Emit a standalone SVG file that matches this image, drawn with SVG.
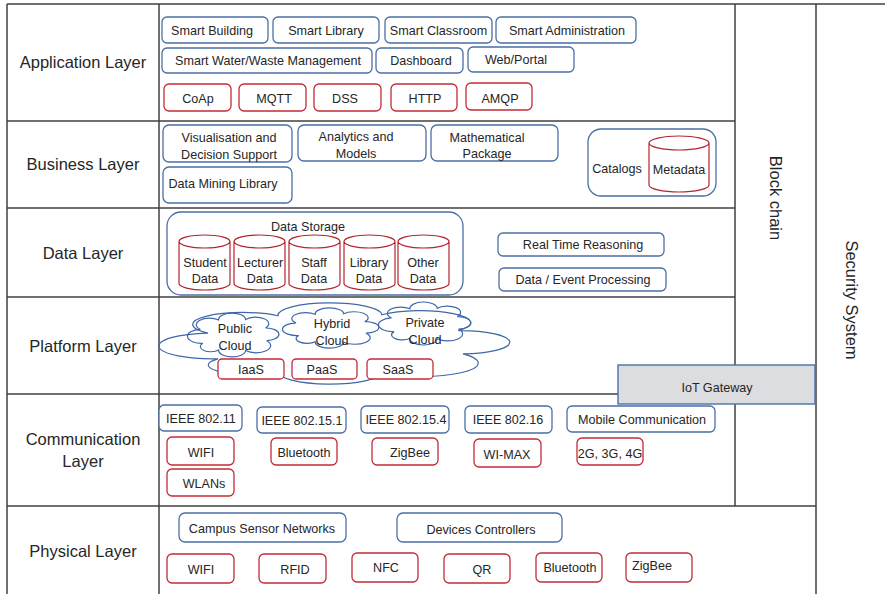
<svg xmlns="http://www.w3.org/2000/svg" xmlns:xlink="http://www.w3.org/1999/xlink" width="885" height="594" viewBox="0 0 885 594">
  <style>
    .frame line { stroke: #404040; stroke-width: 1.5; }
    .bx { fill: #ffffff; stroke: #4a6fa5; stroke-width: 1.3; }
    .rb { fill: #ffffff; stroke: #c42b36; stroke-width: 1.3; }
    .cyl { fill: #ffffff; stroke: #b3262f; stroke-width: 1.2; }
    .cloud { fill: none; stroke: #3f68a8; stroke-width: 1.2; vector-effect: non-scaling-stroke; }
    text { font-family: "Liberation Sans", Arial, sans-serif; fill: #262626; }
    .t { font-size: 12.6px; text-anchor: middle; }
    .lbl { font-size: 16.5px; text-anchor: middle; }
  </style>
  <defs>
    <!-- generic cloud outline in a 100x100 box, scaled per use -->
    <path id="cloud" class="cloud" d="M17.1,68 A1,1 0 0 1 14.3,37.7 A1,1 0 0 1 33.9,17.4 A1,1 0 0 1 63,16.2 A1,1 0 0 1 84.4,34.8 A1,1 0 0 1 85.7,62.3 A1,1 0 0 1 63,83.8 A1,1 0 0 1 33.9,82.6 A1,1 0 0 1 17.1,68 Z"/>
  </defs>

  <rect width="885" height="594" fill="#ffffff"/>

  <!-- layer grid -->
  <g id="connectors" class="frame">
    <line x1="7" y1="4" x2="885" y2="4"/>
    <line x1="7" y1="121" x2="735" y2="121"/>
    <line x1="7" y1="208" x2="735" y2="208"/>
    <line x1="7" y1="297" x2="735" y2="297"/>
    <line x1="7" y1="394" x2="735" y2="394"/>
    <line x1="7" y1="506" x2="816" y2="506"/>
    <line x1="7" y1="4" x2="7" y2="594"/>
    <line x1="159" y1="4" x2="159" y2="594"/>
    <line x1="735" y1="4" x2="735" y2="506"/>
    <line x1="816" y1="4" x2="816" y2="594"/>
  </g>

  <!-- layer names -->
  <g id="layer-labels">
    <text class="lbl" x="83" y="68">Application Layer</text>
    <text class="lbl" x="83" y="170">Business Layer</text>
    <text class="lbl" x="83" y="259">Data Layer</text>
    <text class="lbl" x="83" y="352">Platform Layer</text>
    <text class="lbl" x="83" y="445">Communication</text>
    <text class="lbl" x="83" y="467">Layer</text>
    <text class="lbl" x="83" y="557">Physical Layer</text>
  </g>

  <g id="block-chain">
    <text class="lbl" transform="translate(770,198) rotate(90)">Block chain</text>
  </g>
  <g id="security-system">
    <text class="lbl" transform="translate(846,300) rotate(90)">Security System</text>
  </g>

  <!-- Application layer -->
  <g id="smart-building"><rect class="bx" x="162" y="17" width="106" height="26" rx="5"/><text class="t" x="212" y="35">Smart Building</text></g>
  <g id="smart-library"><rect class="bx" x="273" y="17" width="106" height="26" rx="5"/><text class="t" x="326" y="35">Smart Library</text></g>
  <g id="smart-classroom"><rect class="bx" x="385" y="17" width="107" height="26" rx="5"/><text class="t" x="438.5" y="35">Smart Classroom</text></g>
  <g id="smart-administration"><rect class="bx" x="496" y="17" width="140" height="26" rx="5"/><text class="t" x="567" y="35">Smart Administration</text></g>
  <g id="smart-water"><rect class="bx" x="162" y="48" width="210" height="25" rx="5"/><text class="t" x="268" y="64.5">Smart Water/Waste Management</text></g>
  <g id="dashboard"><rect class="bx" x="376" y="48" width="87" height="25" rx="5"/><text class="t" x="421" y="64.5">Dashboard</text></g>
  <g id="web-portal"><rect class="bx" x="468" y="47" width="106" height="25" rx="5"/><text class="t" x="516" y="64">Web/Portal</text></g>
  <g id="coap"><rect class="rb" x="164" y="84" width="67" height="27" rx="5"/><text class="t" x="198" y="103">CoAp</text></g>
  <g id="mqtt"><rect class="rb" x="239" y="84" width="67" height="27" rx="5"/><text class="t" x="274" y="103">MQTT</text></g>
  <g id="dss"><rect class="rb" x="314" y="84" width="67" height="27" rx="5"/><text class="t" x="345" y="103">DSS</text></g>
  <g id="http"><rect class="rb" x="391" y="84" width="66" height="27" rx="5"/><text class="t" x="425" y="103">HTTP</text></g>
  <g id="amqp"><rect class="rb" x="466" y="83" width="66" height="27" rx="5"/><text class="t" x="500" y="102.5">AMQP</text></g>

  <!-- Business layer -->
  <g id="visualisation"><rect class="bx" x="163" y="125" width="129" height="37" rx="6"/><text class="t" x="229" y="141.5">Visualisation and</text><text class="t" x="229" y="158.5">Decision Support</text></g>
  <g id="analytics"><rect class="bx" x="298" y="125" width="128" height="36" rx="6"/><text class="t" x="356" y="141">Analytics and</text><text class="t" x="356" y="157.5">Models</text></g>
  <g id="mathematical"><rect class="bx" x="431" y="125" width="127" height="36" rx="6"/><text class="t" x="487" y="141.5">Mathematical</text><text class="t" x="487" y="158">Package</text></g>
  <g id="data-mining"><rect class="bx" x="163" y="167" width="129" height="36" rx="6"/><text class="t" x="223" y="188">Data Mining Library</text></g>
  <g id="catalogs">
    <rect class="bx" x="588" y="129" width="128" height="67" rx="13"/>
    <text class="t" x="617" y="172.5">Catalogs</text>
  </g>
  <g id="metadata">
    <path class="cyl" d="M649,143 A30,7 0 0 1 709,143 V185 A30,7 0 0 1 649,185 Z M649,143 A30,7 0 0 0 709,143"/>
    <text class="t" x="679" y="173.5">Metadata</text>
  </g>

  <!-- Data layer -->
  <g id="data-storage">
    <rect class="bx" x="167" y="212" width="296" height="83" rx="14"/>
    <text class="t" x="308" y="230.5">Data Storage</text>
  </g>
  <g id="student-data">
    <path class="cyl" d="M179,241.5 A25.5,6.5 0 0 1 230,241.5 V283.5 A25.5,6.5 0 0 1 179,283.5 Z M179,241.5 A25.5,6.5 0 0 0 230,241.5"/>
    <text class="t" x="205" y="266.5">Student</text><text class="t" x="205" y="282.5">Data</text>
  </g>
  <g id="lecturer-data">
    <path class="cyl" d="M234,241.5 A25.5,6.5 0 0 1 285,241.5 V283.5 A25.5,6.5 0 0 1 234,283.5 Z M234,241.5 A25.5,6.5 0 0 0 285,241.5"/>
    <text class="t" x="260" y="266.5">Lecturer</text><text class="t" x="260" y="282.5">Data</text>
  </g>
  <g id="staff-data">
    <path class="cyl" d="M289,241.5 A25.5,6.5 0 0 1 340,241.5 V283.5 A25.5,6.5 0 0 1 289,283.5 Z M289,241.5 A25.5,6.5 0 0 0 340,241.5"/>
    <text class="t" x="314" y="266.5">Staff</text><text class="t" x="314" y="282.5">Data</text>
  </g>
  <g id="library-data">
    <path class="cyl" d="M344,241.5 A25.5,6.5 0 0 1 395,241.5 V283.5 A25.5,6.5 0 0 1 344,283.5 Z M344,241.5 A25.5,6.5 0 0 0 395,241.5"/>
    <text class="t" x="369" y="266.5">Library</text><text class="t" x="369" y="282.5">Data</text>
  </g>
  <g id="other-data">
    <path class="cyl" d="M398,241.5 A25.5,6.5 0 0 1 449,241.5 V283.5 A25.5,6.5 0 0 1 398,283.5 Z M398,241.5 A25.5,6.5 0 0 0 449,241.5"/>
    <text class="t" x="423" y="266.5">Other</text><text class="t" x="423" y="282.5">Data</text>
  </g>
  <g id="real-time-reasoning"><rect class="bx" x="498" y="233" width="166" height="23" rx="5"/><text class="t" x="583" y="248.5">Real Time Reasoning</text></g>
  <g id="event-processing"><rect class="bx" x="499" y="268" width="167" height="23" rx="5"/><text class="t" x="583" y="283.5">Data / Event Processing</text></g>

  <!-- Platform layer -->
  <g id="cloud-platform">
    <use xlink:href="#cloud" href="#cloud" transform="translate(157,301) scale(3.57,0.85)"/>
  </g>
  <g id="public-cloud">
    <use xlink:href="#cloud" href="#cloud" transform="translate(187,312) scale(0.93,0.46)"/>
    <text class="t" x="235" y="332.5">Public</text><text class="t" x="235" y="349.5">Cloud</text>
  </g>
  <g id="hybrid-cloud">
    <use xlink:href="#cloud" href="#cloud" transform="translate(282,307) scale(0.98,0.42)"/>
    <text class="t" x="332" y="327.5">Hybrid</text><text class="t" x="332" y="344.5">Cloud</text>
  </g>
  <g id="private-cloud">
    <use xlink:href="#cloud" href="#cloud" transform="translate(378,301) scale(0.94,0.45)"/>
    <text class="t" x="425" y="326.5">Private</text><text class="t" x="425" y="343.5">Cloud</text>
  </g>
  <g id="iaas"><rect class="rb" x="218" y="359" width="66" height="20" rx="4"/><text class="t" x="251" y="374">IaaS</text></g>
  <g id="paas"><rect class="rb" x="292" y="359" width="65" height="20" rx="4"/><text class="t" x="322" y="374">PaaS</text></g>
  <g id="saas"><rect class="rb" x="367" y="359" width="66" height="20" rx="4"/><text class="t" x="398" y="373.5">SaaS</text></g>

  <g id="iot-gateway">
    <rect x="618" y="365" width="197" height="39" fill="#dcdde0" stroke="#4a6fa5" stroke-width="1.4"/>
    <text class="t" x="717" y="391.5">IoT Gateway</text>
  </g>

  <!-- Communication layer -->
  <g id="ieee-80211"><rect class="bx" x="159" y="405" width="83" height="26" rx="5"/><text class="t" x="201" y="422.5">IEEE 802.11</text></g>
  <g id="ieee-802151"><rect class="bx" x="257" y="407" width="89" height="26" rx="5"/><text class="t" x="302" y="424.5">IEEE 802.15.1</text></g>
  <g id="ieee-802154"><rect class="bx" x="361" y="406" width="88" height="27" rx="5"/><text class="t" x="406" y="424">IEEE 802.15.4</text></g>
  <g id="ieee-80216"><rect class="bx" x="465" y="406" width="87" height="27" rx="5"/><text class="t" x="508" y="424">IEEE 802.16</text></g>
  <g id="mobile-communication"><rect class="bx" x="567" y="406" width="148" height="26" rx="5"/><text class="t" x="642" y="423.5">Mobile Communication</text></g>
  <g id="comm-wifi"><rect class="rb" x="167" y="437" width="67" height="28" rx="5"/><text class="t" x="201" y="456.5">WIFI</text></g>
  <g id="wlans"><rect class="rb" x="167" y="469" width="67" height="27" rx="5"/><text class="t" x="204" y="487.5">WLANs</text></g>
  <g id="comm-bluetooth"><rect class="rb" x="271" y="438" width="66" height="27" rx="5"/><text class="t" x="304" y="456.5">Bluetooth</text></g>
  <g id="comm-zigbee"><rect class="rb" x="372" y="438" width="66" height="27" rx="5"/><text class="t" x="410" y="456.5">ZigBee</text></g>
  <g id="wi-max"><rect class="rb" x="474" y="439" width="67" height="28" rx="5"/><text class="t" x="507" y="458.5">WI-MAX</text></g>
  <g id="mobile-gen"><rect class="rb" x="577" y="438" width="66" height="27" rx="5"/><text class="t" x="610" y="457.5">2G, 3G, 4G</text></g>

  <!-- Physical layer -->
  <g id="campus-sensor-networks"><rect class="bx" x="179" y="513" width="167" height="29" rx="6"/><text class="t" x="262" y="532.5">Campus Sensor Networks</text></g>
  <g id="devices-controllers"><rect class="bx" x="397" y="513" width="165" height="29" rx="6"/><text class="t" x="481" y="534">Devices Controllers</text></g>
  <g id="phys-wifi"><rect class="rb" x="167" y="554" width="67" height="29" rx="5"/><text class="t" x="201" y="573.5">WIFI</text></g>
  <g id="rfid"><rect class="rb" x="259" y="554" width="67" height="29" rx="5"/><text class="t" x="295" y="573.5">RFID</text></g>
  <g id="nfc"><rect class="rb" x="352" y="553" width="66" height="29" rx="5"/><text class="t" x="386" y="571.5">NFC</text></g>
  <g id="qr"><rect class="rb" x="444" y="554" width="66" height="29" rx="5"/><text class="t" x="482" y="573.5">QR</text></g>
  <g id="phys-bluetooth"><rect class="rb" x="536" y="553" width="66" height="29" rx="5"/><text class="t" x="570" y="571.5">Bluetooth</text></g>
  <g id="phys-zigbee"><rect class="rb" x="626" y="553" width="66" height="29" rx="5"/><text class="t" x="652" y="569.5">ZigBee</text></g>
</svg>
